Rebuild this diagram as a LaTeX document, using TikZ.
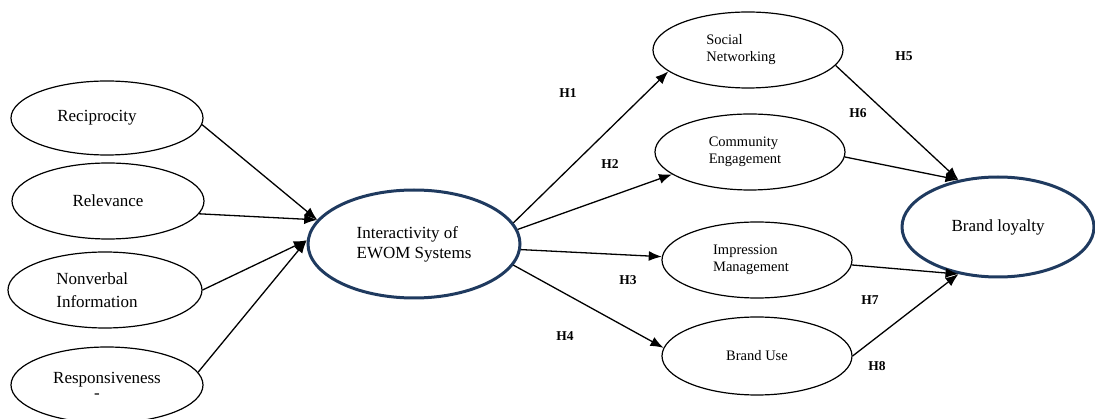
\documentclass[tikz,border=0pt]{standalone}
\usepackage{fontspec}
\setmainfont{Liberation Serif}
\usepackage{xcolor}
\usetikzlibrary{arrows.meta,shapes.geometric}
\definecolor{navy}{HTML}{1F3A5F}

\begin{document}
\begin{tikzpicture}[
  x=1pt, y=-1pt,
  factor/.style={ellipse, draw, line width=1.2pt, inner sep=0pt, minimum width=192pt, minimum height=74pt, align=left, font=\fontsize{17}{23}\selectfont},
  outcome/.style={factor, minimum width=190pt, minimum height=76pt, font=\fontsize{14.5}{17}\selectfont},
  core/.style={ellipse, draw=navy, line width=3pt, inner sep=0pt, align=left, font=\fontsize{17}{20}\selectfont},
  arr/.style={-{Latex[length=13pt,width=10pt]}, line width=1.3pt},
  hyp/.style={font=\bfseries\fontsize{13.5}{15}\selectfont}
]
\useasboundingbox (0,0) rectangle (1095,419);

% antecedents
\node[factor] (recip) at (107,118) {Reciprocity\hspace*{20pt}};
\node[factor, minimum height=76pt] (relev) at (108,201) {Relevance};
\node[factor, minimum width=194pt, minimum height=76pt] (nonverb) at (105,290) {Nonverbal\\Information\hspace*{16pt}};
\node[factor, minimum height=76pt, align=center] (respons) at (107,385) {Responsiveness\\[-8pt]-\hspace*{20pt}};

% mediator and outcome
\node[core, minimum width=212pt, minimum height=108pt] (ewom) at (414,244) {Interactivity of\\EWOM Systems};
\node[core, minimum width=192pt, minimum height=100pt] (loyal) at (998,227) {Brand loyalty};

% dimensions
\node[outcome] (social) at (748,50) {Social\\Networking\hspace*{14pt}};
\node[outcome] (commun) at (750,152) {Community\\Engagement\hspace*{10pt}};
\node[outcome] (impress) at (757,260) {Impression\\Management\hspace*{12pt}};
\node[outcome, minimum height=78pt] (brand) at (757,356) {Brand Use};

\draw[arr] (recip.-4) -- (ewom.166);
\draw[arr] (relev.-8) -- (ewom.166);
\draw[arr] (nonverb.east) -- (ewom.178);
\draw[arr] (respons.8) -- (ewom.178);

\draw[arr] (ewom.12) -- (social.195);
\draw[arr] (ewom.8) -- (commun.196);
\draw[arr] (ewom.-3) -- (impress.178);
\draw[arr] (ewom.-12) -- (brand.175);

\draw[arr] (social.-10) -- (loyal.130);
\draw[arr] (commun.-3) -- (loyal.130);
\draw[arr] (impress.-3) -- (loyal.230);
\draw[arr] (brand.east) -- (loyal.230);

% hypotheses
\foreach \n/\x/\y in {1/568/93, 2/610/164, 3/628/280, 4/565/336, 5/904/56, 6/858/113, 7/870/300, 8/877/366}
  \node[hyp] (h\n) at (\x,\y) {H\n};
\end{tikzpicture}
\end{document}
